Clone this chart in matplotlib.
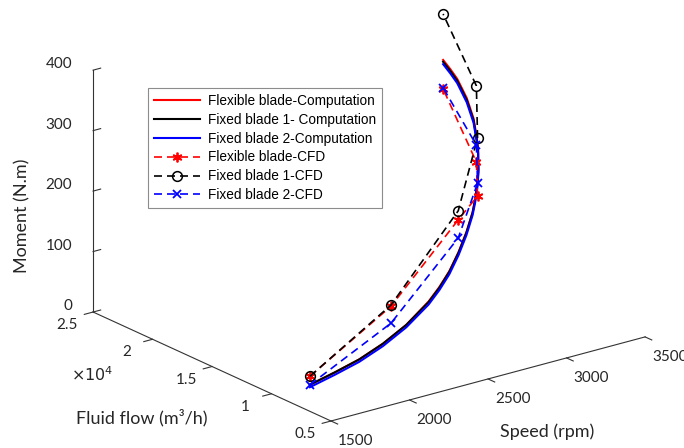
import matplotlib
matplotlib.use('Agg')
import matplotlib.pyplot as plt
from matplotlib.ticker import NullFormatter
from mpl_toolkits.mplot3d import proj3d

# computation curves: speed (rpm), fluid flow (m3/h), moment (N.m)
speed_comp = [1500, 1700, 1900, 2100, 2300, 2500, 2600, 2700, 2800, 2900, 3000, 3050, 3100,
              3170, 3240, 3300, 3360, 3380, 3400, 3420, 3440, 3456, 3470, 3486, 3500]
flow_comp = [6770, 7300, 7900, 8560, 9240, 10000, 10420, 10900, 11440, 12100, 12900, 13350, 13800,
             14660, 15600, 16400, 17300, 17700, 18100, 18600, 19200, 19800, 20400, 21200, 21980]
mom_flex_comp = [44, 46, 48, 54, 65, 83, 96, 111, 131, 151, 170, 184, 205,
                 214, 217, 221, 228, 239, 250, 258, 271, 280, 290, 298, 305]
mom_fix1_comp = [44, 46, 48, 54, 65, 82, 95, 110, 130, 150, 169, 182, 203,
                 212, 215, 219, 225, 236, 247, 255, 268, 277, 287, 295, 302]
mom_fix2_comp = [40, 42, 44, 50, 61, 78, 91, 106, 126, 146, 165, 178, 199,
                 208, 211, 215, 221, 232, 243, 251, 264, 273, 283, 291, 298]

# CFD points
speed_cfd = [1500, 2170, 2795, 3130, 3380, 3500]
flow_cfd = [6770, 8800, 11400, 14200, 17600, 21980]
mom_flex_cfd = [58, 109, 185, 176, 184, 257]
mom_fix1_cfd = [58, 111, 200, 272, 310, 381]
mom_fix2_cfd = [44, 81, 155, 197, 212, 259]

speed_ticks = [1500, 2000, 2500, 3000, 3500]
flow_ticks = [5000, 10000, 15000, 20000, 25000]
flow_tick_labels = ['0.5', '1', '1.5', '2', '2.5']
mom_ticks = [0, 100, 200, 300, 400]

W, H = 684, 448
fig = plt.figure(figsize=(W / 100, H / 100), dpi=100)
ax = fig.add_axes([0, 0, 400 / W, 400 / H], projection='3d')
ax.set_proj_type('ortho')
ax.view_init(elev=20.5, azim=-127.4)
ax.set_box_aspect((395.5, 391.8, 258.3))
ax.computed_zorder = False

dash = (0, (4.8, 3.0))
ax.plot(speed_comp, flow_comp, mom_flex_comp, color='red', lw=1.5, label='Flexible blade-Computation')
ax.plot(speed_comp, flow_comp, mom_fix1_comp, color='black', lw=1.5, label='Fixed blade 1- Computation')
ax.plot(speed_comp, flow_comp, mom_fix2_comp, color='blue', lw=1.5, label='Fixed blade 2-Computation')
ax.plot(speed_cfd, flow_cfd, mom_flex_cfd, color='red', lw=1.2, ls=dash, marker=(6, 2, 0),
        ms=7, mew=1.3, label='Flexible blade-CFD')
ax.plot(speed_cfd, flow_cfd, mom_fix1_cfd, color='black', lw=1.2, ls=dash, marker='o',
        ms=7, mfc='none', mew=1.1, label='Fixed blade 1-CFD')
ax.plot(speed_cfd, flow_cfd, mom_fix2_cfd, color='blue', lw=1.2, ls=dash, marker='x',
        ms=5.5, mew=1.3, label='Fixed blade 2-CFD')

ax.set_xlim(1500, 3500)
ax.set_ylim(5000, 25000)
ax.set_zlim(0, 400)
ax.set_xticks(speed_ticks)
ax.set_yticks(flow_ticks)
ax.set_zticks(mom_ticks)

ax.grid(False)
for a in (ax.xaxis, ax.yaxis, ax.zaxis):
    a.set_pane_color((1, 1, 1, 0))
    a.pane.set_edgecolor('none')
    a.line.set_color('0.2')
    a.line.set_linewidth(0.8)
    a._axinfo['tick']['linewidth'] = {True: 0.8, False: 0.5}
    a.set_tick_params(colors='0.2')
    a.set_major_formatter(NullFormatter())
for a in (ax.xaxis, ax.yaxis):
    a._axinfo['tick']['inward_factor'] = 0.35
    a._axinfo['tick']['outward_factor'] = 0.0
ax.zaxis._axinfo['tick']['inward_factor'] = 0.0
ax.zaxis._axinfo['tick']['outward_factor'] = 0.3

# scale and move the axes so the box sits where the reference has it
fig.canvas.draw()
M = ax.get_proj()


def to_px(x, y, z):
    xs, ys, _ = proj3d.proj_transform(x, y, z, M)
    return ax.transData.transform((xs, ys))


o = to_px(1500, 5000, 0)
xe = to_px(3500, 5000, 0)
ye = to_px(1500, 25000, 0)
k = 552 / (xe[0] - ye[0])
side = 400 * k
x0 = 331 - k * o[0]
y0 = (H - 421) - k * o[1]
ax.set_position([x0 / W, y0 / H, side / W, side / H])

# tick labels, MATLAB style offsets from the projected tick positions
tick_font = dict(fontsize=11, family='Lato', color='0.15')
for s in speed_ticks:
    px, py = to_px(s, 5000, 0)
    fig.text((px + 25) / W, (py - 20) / H, f'{s}', ha='center', va='center', **tick_font)
for f, lab in zip(flow_ticks, flow_tick_labels):
    px, py = to_px(1500, f, 0)
    fig.text((px - 26) / W, (py - 13) / H, lab, ha='center', va='center', **tick_font)
for m in mom_ticks:
    px, py = to_px(1500, 25000, m)
    fig.text((px - 21) / W, (py + 6) / H, f'{m}', ha='right', va='center', **tick_font)

lab_font = dict(fontsize=13, family='Lato', color='0.15')
fig.text(547 / W, 1 - 432 / H, 'Speed (rpm)', ha='center', va='center', **lab_font)
fig.text(142 / W, 1 - 418 / H, 'Fluid flow (m³/h)', ha='center', va='center', **lab_font)
fig.text(22 / W, 1 - 216 / H, 'Moment (N.m)', ha='center', va='center', rotation=90, **lab_font)
fig.text(92 / W, 1 - 375 / H, r'$\times10^4$', ha='center', va='center',
         fontsize=11.5, color='0.15')

leg = fig.legend(loc='upper left', bbox_to_anchor=(148 / W, 1 - 88 / H),
                 prop={'family': 'Liberation Sans', 'size': 9.8},
                 frameon=True, fancybox=False, edgecolor='0.55', framealpha=1,
                 handlelength=3.4, handletextpad=0.6, labelspacing=0.36,
                 borderpad=0.42, borderaxespad=0)
leg.get_frame().set_linewidth(0.8)

fig.savefig('out.png', dpi=100)
